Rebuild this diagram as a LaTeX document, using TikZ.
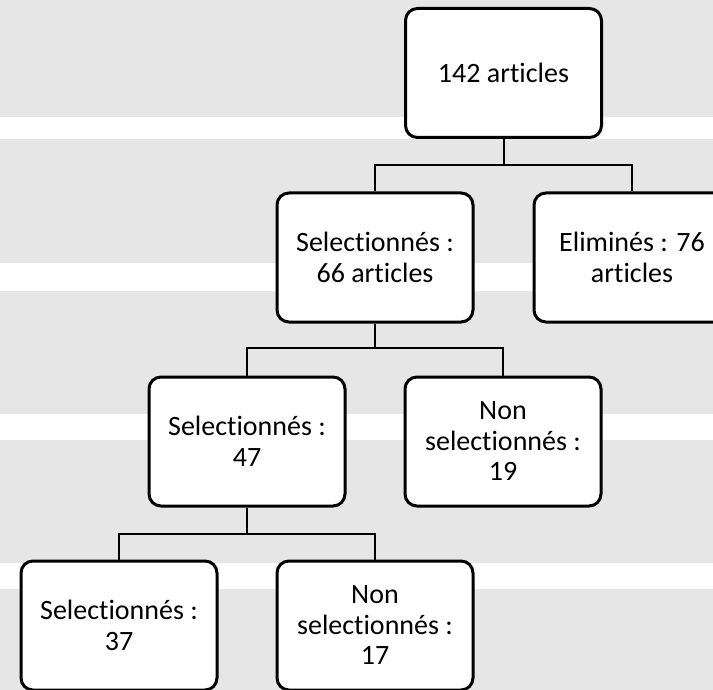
\documentclass[tikz,border=0pt]{standalone}
\usepackage{fontspec}
\setmainfont[Ligatures=NoCommon]{Carlito}
\usetikzlibrary{positioning}
\definecolor{bandgray}{RGB}{230,230,230}

\begin{document}
\begin{tikzpicture}[x=1pt,y=-1pt,node distance=184pt and 128pt,on grid]
      \tikzset{box/.style={draw,rectangle,rounded corners=12pt,line width=3pt,fill=white,
          minimum width=196pt,minimum height=129pt,inner sep=0pt,align=center,
          font=\fontsize{28}{30.5}\selectfont}}
      \tikzset{link/.style={line width=2pt}}
      
      % background bands
      \useasboundingbox (0,0) rectangle (713,690);
      \clip (0,0) rectangle (713,690);
      \fill[bandgray] (0,0) rectangle (713,690);
      \foreach \a/\b in {117/139,263/291,414/440,563/589}
        \fill[white] (0,\a) rectangle (713,\b);
      
      \node[box] (total) at (503.5,73) {142 articles};
      \node[box] (sel1) [below left = 184.5pt and 128.5pt of total] {Selectionnés :\\66 articles};
      \node[box] (elim) [below right = 184.5pt and 128.5pt of total] {Eliminés : 76\\articles};
      \node[box] (sel2) [below left = of sel1] {Selectionnés :\\47};
      \node[box] (non2) [below right = of sel1] {Non\\selectionnés :\\19};
      \node[box] (sel3) [below left = of sel2] {Selectionnés :\\37};
      \node[box] (non3) [below right = of sel2] {Non\\selectionnés :\\17};
      
      \draw[link] (total.south) -- ++(0,26) -| (sel1.north);
      \draw[link] (total.south) ++(0,26) -| (elim.north);
      \draw[link] (sel1.south) -- ++(0,24) -| (sel2.north);
      \draw[link] (sel1.south) ++(0,24) -| (non2.north);
      \draw[link] (sel2.south) -- ++(0,26) -| (sel3.north);
      \draw[link] (sel2.south) ++(0,26) -| (non3.north);
    \end{tikzpicture}
\end{document}
